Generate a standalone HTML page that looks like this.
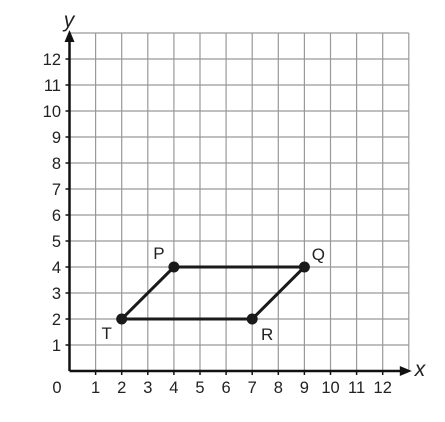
<!DOCTYPE html>
<html><head><meta charset="utf-8"><style>
body{margin:0;background:#fff}
text{font-family:"Liberation Sans",sans-serif;fill:#222}
</style></head><body>
<svg id="c" width="445" height="417" xmlns="http://www.w3.org/2000/svg"></svg>
<script>
const xTicks=[1,2,3,4,5,6,7,8,9,10,11,12];
const yTicks=[1,2,3,4,5,6,7,8,9,10,11,12];
const pointNames=["T","P","Q","R"];
const pointX=[2,4,9,7];
const pointY=[2,4,4,2];
const ns="http://www.w3.org/2000/svg";
const svg=document.getElementById('c');
const X=v=>69.5+v*26.1, Y=v=>371-v*26;
function el(t,a,p){const e=document.createElementNS(ns,t);for(const k in a)e.setAttribute(k,a[k]);(p||svg).appendChild(e);return e;}
const grid=el('g',{});


for(let i=1;i<=13;i++){
  el('line',{x1:X(i),x2:X(i),y1:Y(0),y2:Y(13),stroke:'#999','stroke-width':1.2},grid);
  el('line',{x1:X(0),x2:X(13),y1:Y(i),y2:Y(i),stroke:'#999','stroke-width':1.2},grid);
}
const ax=el('g',{});


el('line',{x1:X(0),x2:X(13)-2,y1:Y(0),y2:Y(0),stroke:'#111','stroke-width':2.5},ax);
el('line',{x1:X(0),x2:X(0),y1:Y(0),y2:Y(13)+2,stroke:'#111','stroke-width':2.5},ax);
el('polygon',{points:`${X(13)+3},${Y(0)} ${X(13)-9},${Y(0)-5} ${X(13)-9},${Y(0)+5}`,fill:'#111'},ax);
el('polygon',{points:`${X(0)},${Y(13)-3} ${X(0)-5},${Y(13)+9} ${X(0)+5},${Y(13)+9}`,fill:'#111'},ax);
xTicks.forEach(v=>{
  el('line',{x1:X(v),x2:X(v),y1:Y(0),y2:Y(0)+4,stroke:'#111','stroke-width':1.5},ax);
  const t=el('text',{x:X(v),y:393,'text-anchor':'middle','font-size':16.5},ax);t.textContent=v;
  
  
});
yTicks.forEach(v=>{
  el('line',{x1:X(0)-4,x2:X(0),y1:Y(v),y2:Y(v),stroke:'#111','stroke-width':1.5},ax);
  const t=el('text',{x:61,y:Y(v)+6,'text-anchor':'end','font-size':16.5},ax);t.textContent=v;
  
  
});
const z=el('text',{x:57,y:393,'text-anchor':'middle','font-size':16.5});z.textContent='0';


const yl=el('text',{x:69,y:27,'text-anchor':'middle','font-size':21,'font-style':'italic','font-family':'Liberation Serif'});yl.textContent='y';


const xl=el('text',{x:420,y:376,'text-anchor':'middle','font-size':21,'font-style':'italic','font-family':'Liberation Serif'});xl.textContent='x';


const pts=pointX.map((x,i)=>`${X(x)},${Y(pointY[i])}`).join(' ');
const poly=el('polygon',{points:pts,fill:'none',stroke:'#1a1a1a','stroke-width':3});


const offs={T:[-15,20],P:[-15,-8],Q:[14,-7],R:[15,21]};
pointNames.forEach((n,i)=>{
  const c=el('circle',{cx:X(pointX[i]),cy:Y(pointY[i]),r:5.5,fill:'#1a1a1a'});
  
  
  const t=el('text',{x:X(pointX[i])+offs[n][0],y:Y(pointY[i])+offs[n][1],'text-anchor':'middle','font-size':17});t.textContent=n;
  
  
});
</script>
</body></html>
